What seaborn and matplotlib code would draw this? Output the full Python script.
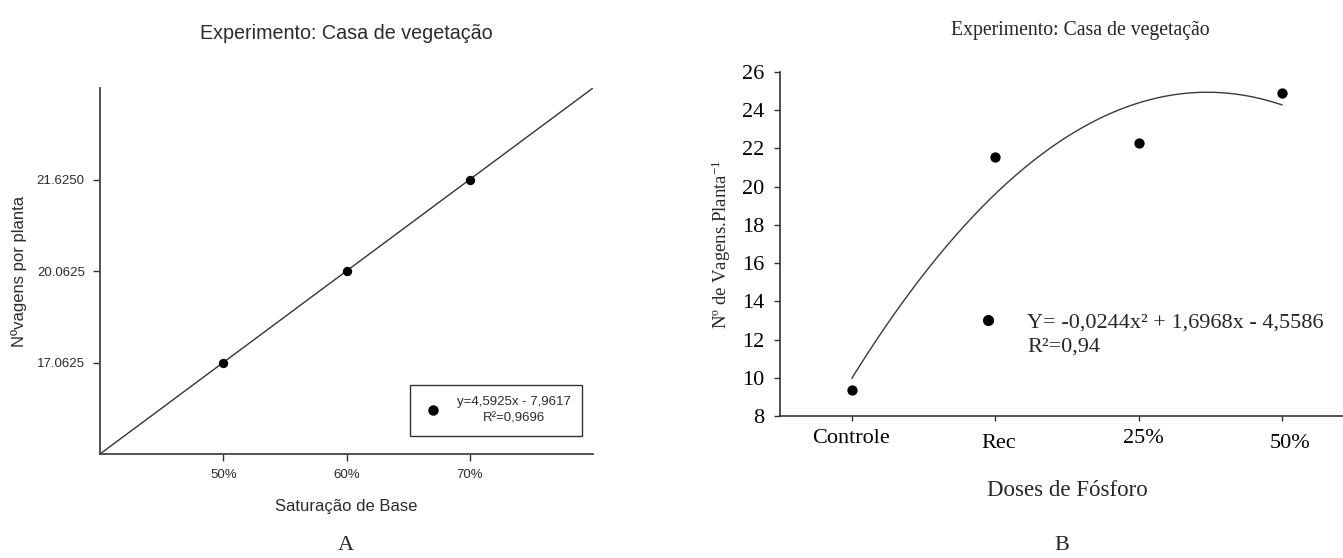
import numpy as np
import pandas as pd
import matplotlib
matplotlib.use("Agg")
import matplotlib.pyplot as plt
from matplotlib.lines import Line2D
from matplotlib.transforms import ScaledTranslation
import seaborn as sns

# ---- Panel A: pods per plant vs. base saturation ----
sat_labels = ["50%", "60%", "70%"]
sat_values = [50, 60, 70]
pods_a = [17.0625, 20.0625, 21.6250]
eq_a = "y=4,5925x - 7,9617\nR²=0,9696"

# ---- Panel B: pods per plant vs. phosphorus dose ----
dose_labels = ["Controle", "Rec", "25%", "50%"]
dose_x = [10, 20, 30, 40]
pods_b = [9.36, 21.55, 22.27, 24.88]
coef_b = [-0.0244, 1.6968, -4.5586]
eq_b_line1 = "Y= -0,0244x² + 1,6968x - 4,5586"
eq_b_line2 = "R²=0,94"

title = "Experimento: Casa de vegetação"

sns.set_style("ticks")
plt.rcParams["mathtext.fontset"] = "custom"
plt.rcParams["mathtext.rm"] = "Liberation Serif"
plt.rcParams["mathtext.it"] = "Liberation Serif:italic"

W, H = 1343, 558
fig = plt.figure(figsize=(W / 100, H / 100), dpi=100)


def px_axes(left, top, right, bottom):
    return fig.add_axes([left / W, 1 - bottom / H, (right - left) / W, (bottom - top) / H])


# The y axis of panel A spaces its three labelled levels evenly
def fwd(v):
    v = np.asarray(v, dtype=float)
    p = np.interp(v, pods_a, [1, 2, 3])
    p = np.where(v < pods_a[0], 1 + (v - pods_a[0]) / (pods_a[1] - pods_a[0]), p)
    p = np.where(v > pods_a[-1], 3 + (v - pods_a[-1]) / (pods_a[-1] - pods_a[-2]), p)
    return p


def inv(p):
    p = np.asarray(p, dtype=float)
    v = np.interp(p, [1, 2, 3], pods_a)
    v = np.where(p < 1, pods_a[0] + (p - 1) * (pods_a[1] - pods_a[0]), v)
    v = np.where(p > 3, pods_a[-1] + (p - 3) * (pods_a[-1] - pods_a[-2]), v)
    return v


sans = "Liberation Sans"
grey = "#2b2b2b"

axA = px_axes(100, 88, 593, 454)
axA.set_yscale("function", functions=(fwd, inv))
xlimA = (40, 80)
ylimA = (float(inv(0)), float(inv(4)))

# fitted line in the axis' own (evenly spaced) coordinates
slope, icpt = np.polyfit(sat_values, fwd(pods_a), 1)
fit_x = np.array(xlimA, dtype=float)
fit_df = pd.DataFrame({"x": fit_x, "y": inv(slope * fit_x + icpt)})
sns.lineplot(data=fit_df, x="x", y="y", ax=axA, color="#333333", lw=1.0)

dfA = pd.DataFrame({"sat": sat_values, "pods": pods_a})
sns.scatterplot(data=dfA, x="sat", y="pods", ax=axA, color="black", s=45,
                edgecolor="black", linewidth=0, zorder=5)
axA.set_xlim(*xlimA)
axA.set_ylim(*ylimA)
axA.set_xticks(sat_values, sat_labels)
axA.set_yticks(pods_a, [f"{v:.4f}" for v in pods_a])
axA.yaxis.set_minor_locator(matplotlib.ticker.NullLocator())
for s in ["top", "right"]:
    axA.spines[s].set_visible(False)
for s in ["left", "bottom"]:
    axA.spines[s].set_color("#444444")
    axA.spines[s].set_linewidth(1.3)
axA.tick_params(axis="both", direction="out", length=5, width=1.0, color="#333333",
                labelsize=9.5, labelcolor=grey, pad=6)
for lab in axA.get_xticklabels() + axA.get_yticklabels():
    lab.set_family(sans)
axA.set_xlabel("Saturação de Base", family=sans, fontsize=12, color=grey, labelpad=13)
axA.set_ylabel("Nºvagens por planta", family=sans, fontsize=12, color=grey, labelpad=7)
axA.set_title(title, family=sans, fontsize=14.2, color=grey, pad=35)

hA = Line2D([], [], ls="none", marker="o", ms=6.5, color="black")
legA = axA.legend([hA], [eq_a], loc="lower right", bbox_to_anchor=(0.978, 0.049),
                  borderaxespad=0, frameon=True, fancybox=False, framealpha=1,
                  edgecolor="#333333", prop={"family": sans, "size": 9.5},
                  handletextpad=0.95, borderpad=0.85, handlelength=1.8)
legA.get_frame().set_linewidth(1.0)
for t in legA.get_texts():
    t.set_multialignment("center")
    t.set_linespacing(1.5)
    t.set_color(grey)

# ---- Panel B ----
serif = "Liberation Serif"
axB = px_axes(780, 72, 1354, 416)
xs = np.linspace(dose_x[0], dose_x[-1], 200)
curve = pd.DataFrame({"x": xs, "y": np.polyval(coef_b, xs)})
sns.lineplot(data=curve, x="x", y="y", ax=axB, color="#3a3a3a", lw=1.0)
dfB = pd.DataFrame({"dose": dose_x, "pods": pods_b})
sns.scatterplot(data=dfB, x="dose", y="pods", ax=axB, color="black", s=55,
                edgecolor="black", linewidth=0, zorder=5)
axB.set_xlim(5, 45)
axB.set_ylim(8, 26)
axB.set_xticks(dose_x, dose_labels)
axB.set_yticks(np.arange(8, 27, 2))
for s in ["top", "right"]:
    axB.spines[s].set_visible(False)
for s in ["left", "bottom"]:
    axB.spines[s].set_color("#333333")
    axB.spines[s].set_linewidth(1.2)
axB.tick_params(axis="both", direction="out", length=4.5, width=1.0, color="#333333",
                labelsize=16, labelcolor="black", pad=7)
axB.tick_params(axis="x", length=3.5, pad=6)
for lab in axB.get_xticklabels() + axB.get_yticklabels():
    lab.set_family(serif)
# the category labels sit slightly staggered under their ticks
shifts = [(-1, 0), (3, -5), (5, 0), (8, -5)]
for lab, (dx, dy) in zip(axB.get_xticklabels(), shifts):
    lab.set_transform(lab.get_transform() + ScaledTranslation(dx / 100, dy / 100, fig.dpi_scale_trans))
axB.set_xlabel("Doses de Fósforo", family=serif, fontsize=16.5, labelpad=19)
axB.set_ylabel("Nº de Vagens.Planta$^{-1}$", family=serif, fontsize=13.5, labelpad=6)
axB.set_title(title, family=serif, fontsize=14.2, pad=27, x=(1080 - 780) / 574)

hB = Line2D([], [], ls="none", marker="o", ms=7, color="black")
hB2 = Line2D([], [], ls="none", marker=None)
legB = axB.legend([hB, hB2], [eq_b_line1, eq_b_line2], loc="upper left",
                  bbox_to_anchor=((971 - 780) / 574, (416 - 312) / 344),
                  borderaxespad=0, frameon=False, prop={"family": serif, "size": 16},
                  handletextpad=1.04, handlelength=1.5, borderpad=0, labelspacing=0.15)

# panel letters
fig.text(346 / W, 1 - 546 / H, "A", family=serif, fontsize=16, ha="center", va="center")
fig.text(1062 / W, 1 - 546 / H, "B", family=serif, fontsize=16, ha="center", va="center")

fig.savefig("out.png", dpi=100)
